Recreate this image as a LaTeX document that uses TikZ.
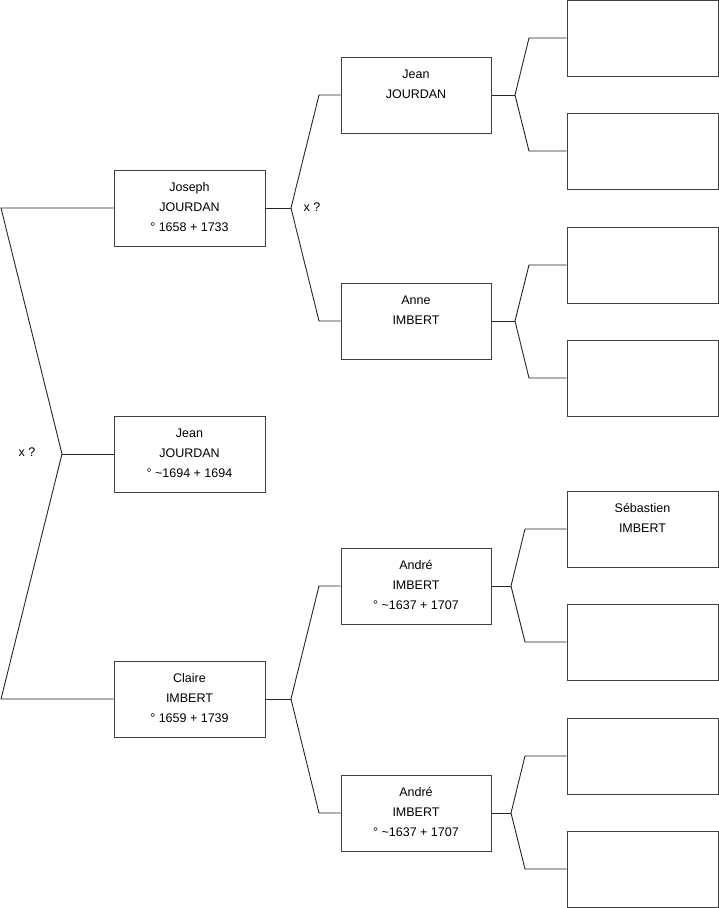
\documentclass[tikz,border=0pt]{standalone}
\usepackage{fontspec}
\setmainfont{Liberation Sans}
\begin{document}
\begin{tikzpicture}[x=1pt,y=-1pt,
  box/.style={draw=black!75,line width=1pt,minimum width=151pt,minimum height=76pt,inner sep=0pt,fill=white},
  txt/.style={anchor=north,align=center,inner sep=0pt,font=\fontsize{12.5}{20}\selectfont},
  lbl/.style={inner sep=0pt,font=\fontsize{12.5}{14}\selectfont},
  conn/.style={draw=black!85,line width=0.9pt}]
\useasboundingbox (0,0) rectangle (719,908);
% level 1
\node[box] (jo) at (189.5,208) {};
\node[box] (je) at (189.5,454) {};
\node[box] (cl) at (189.5,699) {};
% level 2
\node[box,minimum width=150pt] (pa) at (416,95) {};
\node[box,minimum width=150pt] (an) at (416,321) {};
\node[box,minimum width=150pt] (ad1) at (416,586) {};
\node[box,minimum width=150pt] (ad2) at (416,813) {};
% level 3
\node[box] (g1) at (642.5,38) {};
\node[box] (g2) at (642.5,151) {};
\node[box] (g3) at (642.5,265) {};
\node[box] (g4) at (642.5,378) {};
\node[box] (g5) at (642.5,529) {};
\node[box] (g6) at (642.5,642) {};
\node[box] (g7) at (642.5,756) {};
\node[box] (g8) at (642.5,869) {};
% texts
\node[txt] (tjo) at ([yshift=-13pt]jo.north) {Joseph\\JOURDAN\\° 1658 + 1733};
\node[txt] (tje) at ([yshift=-13pt]je.north) {Jean\\JOURDAN\\° \textasciitilde1694 + 1694};
\node[txt] (tcl) at ([yshift=-13pt]cl.north) {Claire\\IMBERT\\° 1659 + 1739};
\node[txt] (tpa) at ([yshift=-13pt]pa.north) {Jean\\JOURDAN};
\node[txt] (tan) at ([yshift=-13pt]an.north) {Anne\\IMBERT};
\node[txt] (tad1) at ([yshift=-13pt]ad1.north) {André\\IMBERT\\° \textasciitilde1637 + 1707};
\node[txt] (tad2) at ([yshift=-13pt]ad2.north) {André\\IMBERT\\° \textasciitilde1637 + 1707};
\node[txt] (tg5) at ([yshift=-13pt]g5.north) {Sébastien\\IMBERT};
% labels
\node[lbl] (x1) at (27,452) {x ?};
\node[lbl] (x2) at (312,207) {x ?};
% left fork
\coordinate (L1) at (1,208);
\coordinate (L2) at (62,454);
\coordinate (L3) at (1,699);
\draw[conn] (jo.west) -- (L1) -- (L2) -- (L3) -- (cl.west);
\draw[conn] (L2) -- (je.west);
% Joseph fork
\coordinate (F1) at (291,208);
\coordinate (F1a) at (319,95);
\coordinate (F1b) at (319,321);
\draw[conn] (jo.east) -- (F1);
\draw[conn] (pa.west) -- (F1a) -- (F1) -- (F1b) -- (an.west);
% Claire fork
\coordinate (F2) at (291,699);
\coordinate (F2a) at (319,586);
\coordinate (F2b) at (319,813);
\draw[conn] (cl.east) -- (F2);
\draw[conn] (ad1.west) -- (F2a) -- (F2) -- (F2b) -- (ad2.west);
% level 2 forks
\coordinate (P1) at (515,95);
\coordinate (P1a) at (529,38);
\coordinate (P1b) at (529,151);
\draw[conn] (pa.east) -- (P1);
\draw[conn] (g1.west) -- (P1a) -- (P1) -- (P1b) -- (g2.west);
\coordinate (P2) at (515,321);
\coordinate (P2a) at (529,265);
\coordinate (P2b) at (529,378);
\draw[conn] (an.east) -- (P2);
\draw[conn] (g3.west) -- (P2a) -- (P2) -- (P2b) -- (g4.west);
\coordinate (P3) at (511,586);
\coordinate (P3a) at (525,529);
\coordinate (P3b) at (525,642);
\draw[conn] (ad1.east) -- (P3);
\draw[conn] (g5.west) -- (P3a) -- (P3) -- (P3b) -- (g6.west);
\coordinate (P4) at (511,813);
\coordinate (P4a) at (525,756);
\coordinate (P4b) at (525,869);
\draw[conn] (ad2.east) -- (P4);
\draw[conn] (g7.west) -- (P4a) -- (P4) -- (P4b) -- (g8.west);
\end{tikzpicture}
\end{document}
